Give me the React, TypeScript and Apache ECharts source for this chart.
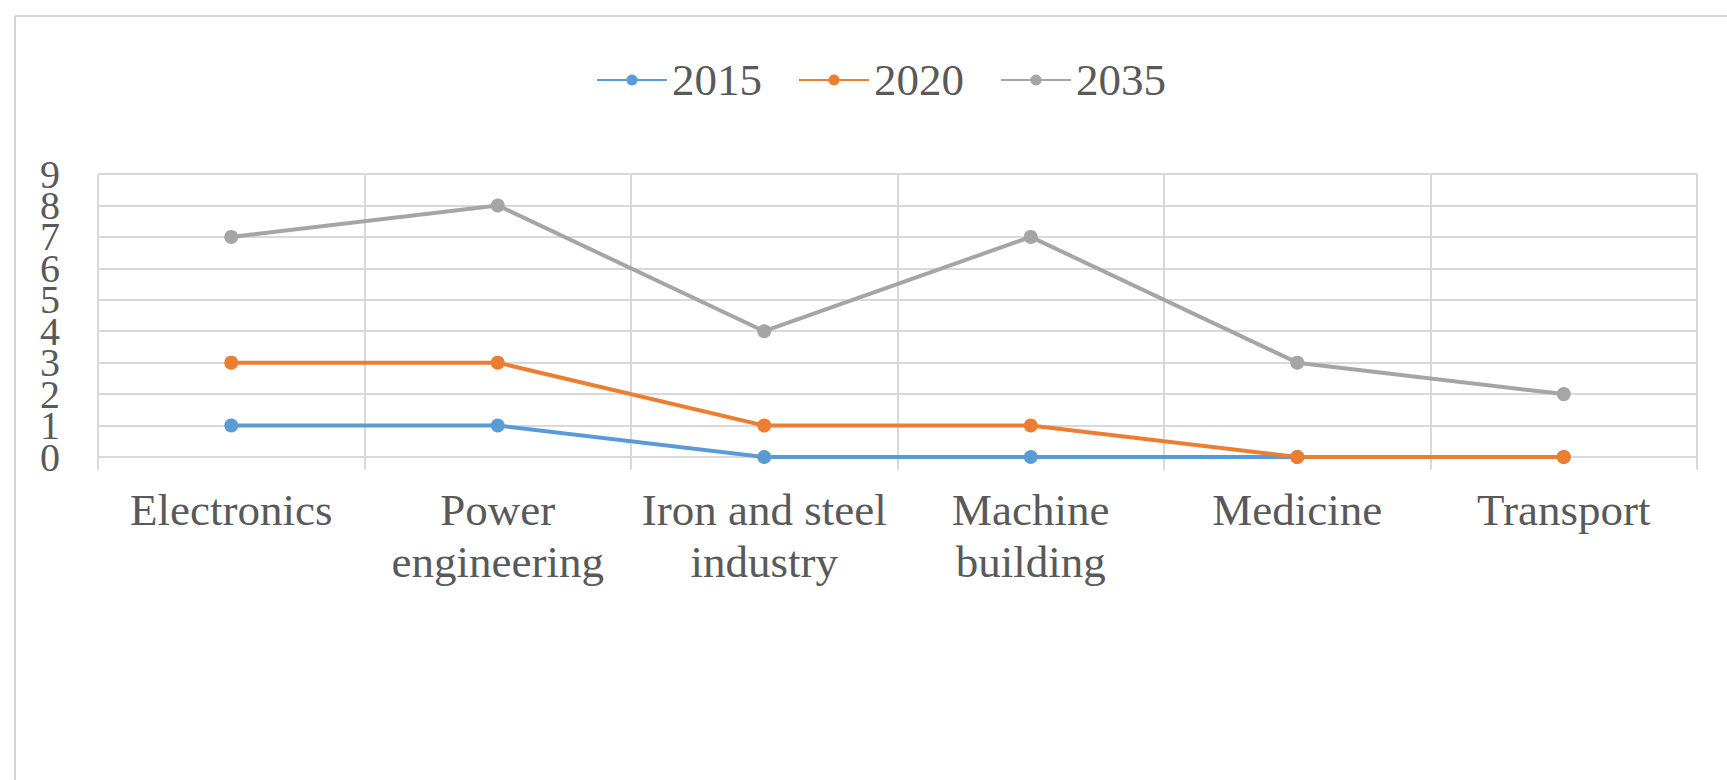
import React, { useEffect, useRef } from "react";
import * as echarts from "echarts";

const categories = [
  "Electronics",
  "Power\nengineering",
  "Iron and steel\nindustry",
  "Machine\nbuilding",
  "Medicine",
  "Transport",
];
const years = ["2015", "2020", "2035"];
const values2015 = [1, 1, 0, 0, 0, 0];
const values2020 = [3, 3, 1, 1, 0, 0];
const values2035 = [7, 8, 4, 7, 3, 2];
const yTicks = { min: 0, max: 9, interval: 1 };
const colors = ["#5B9BD5", "#ED7D31", "#A5A5A5"];

const FONT = "'Liberation Serif', 'Times New Roman', serif";
const TEXT = "#595959";
const GRID = "#d9d9d9";

export default function App() {
  const ref = useRef<HTMLDivElement>(null);
  useEffect(() => {
    if (!ref.current) return;
    const chart = echarts.init(ref.current, undefined, { renderer: "svg" });
    const seriesData = [values2015, values2020, values2035];
    const yAxisBase = (parity: number, showSplit: boolean) => ({
      type: "value",
      position: "left",
      min: yTicks.min,
      max: yTicks.max,
      interval: yTicks.interval,
      axisLine: { show: false },
      axisTick: { show: false },
      splitLine: { show: showSplit, lineStyle: { color: GRID, width: 2 } },
      axisLabel: {
        margin: 38,
        showMinLabel: true,
        showMaxLabel: true,
        hideOverlap: false,
        fontFamily: FONT,
        fontSize: 40,
        color: TEXT,
        formatter: (v: number) => (Math.round(v) % 2 === parity ? String(v) : ""),
      },
    });
    chart.setOption({
      animation: false,
      backgroundColor: "#ffffff",
      graphic: [
        { type: "line", shape: { x1: 15, y1: 16, x2: 1727, y2: 16 }, style: { stroke: "#d4d4d4", lineWidth: 2 } },
        { type: "line", shape: { x1: 15, y1: 16, x2: 15, y2: 780 }, style: { stroke: "#d4d4d4", lineWidth: 2 } },
      ],
      legend: {
        data: years,
        left: 591,
        top: 50,
        itemWidth: 70,
        itemHeight: 14,
        itemGap: 36,
        textStyle: { fontFamily: FONT, fontSize: 45, color: TEXT, lineHeight: 50 },
      },
      grid: { left: 98, right: 30, top: 174, bottom: 323, containLabel: false },
      xAxis: {
        type: "category",
        data: categories,
        boundaryGap: true,
        axisLine: { show: true, lineStyle: { color: GRID, width: 2 } },
        axisTick: { show: true, length: 13, lineStyle: { color: GRID, width: 2 } },
        splitLine: { show: true, lineStyle: { color: GRID, width: 2 } },
        axisLabel: {
          interval: 0,
          fontFamily: FONT,
          fontSize: 45,
          lineHeight: 52,
          color: TEXT,
          margin: 27,
        },
      },
      yAxis: [yAxisBase(0, true), yAxisBase(1, false)],
      series: years.map((y, i) => ({
        name: y,
        type: "line",
        yAxisIndex: 0,
        data: seriesData[i],
        symbol: "circle",
        symbolSize: 14,
        lineStyle: { color: colors[i], width: 4 },
        itemStyle: { color: colors[i] },
      })),
    });
    return () => chart.dispose();
  }, []);
  return (
    <div
      ref={ref}
      style={{ position: "fixed", left: 0, top: 0, width: 1727, height: 780 }}
    />
  );
}
